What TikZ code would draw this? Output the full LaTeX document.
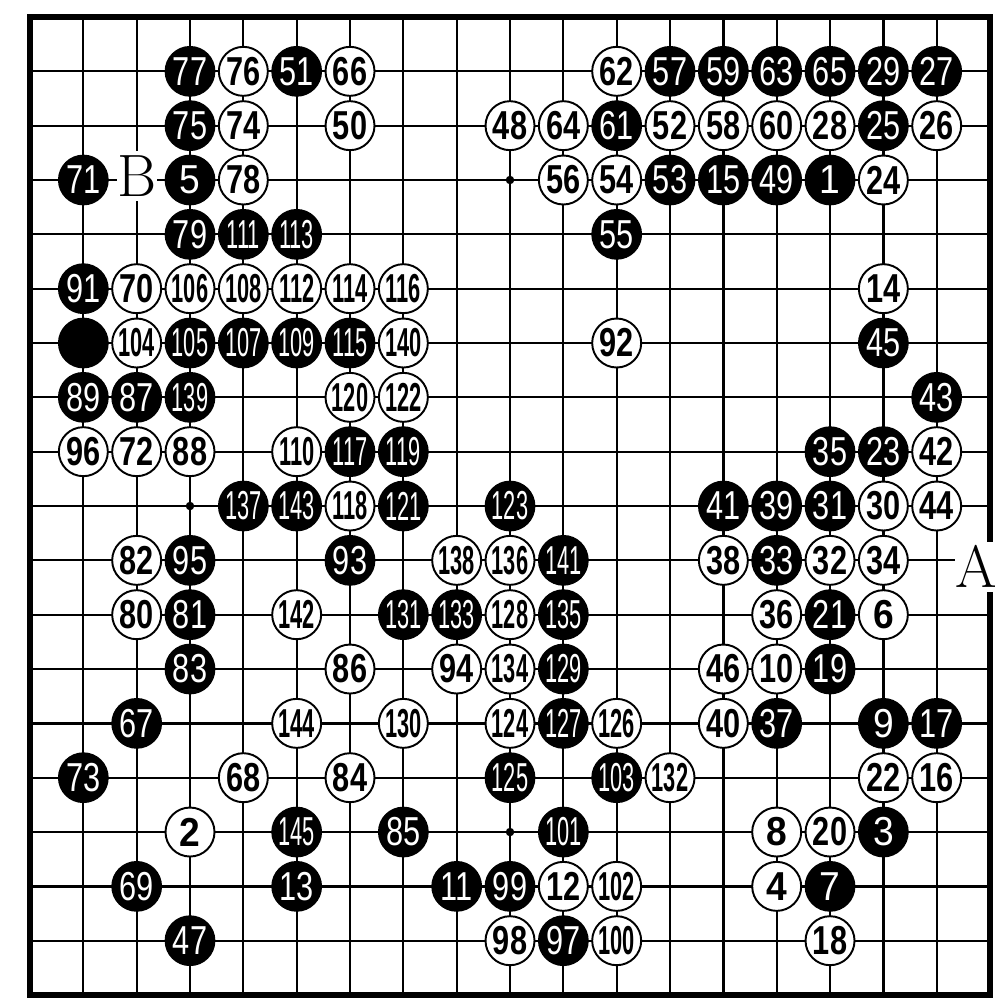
\documentclass[tikz,border=0pt]{standalone}
\usepackage{fontspec}
\setsansfont{Liberation Sans}
\usepackage{graphicx}
\definecolor{inkblack}{RGB}{0,0,0}
\definecolor{paper}{RGB}{255,255,255}
\newcommand{\stonefont}{\sffamily\fontsize{23}{23}\selectfont}
\newcommand{\numlbl}[1]{\ifnum#1>99 \scalebox{0.54}[1]{#1}\else\ifnum#1>9 \scalebox{0.76}[1]{#1}\else \scalebox{0.92}[1]{#1}\fi\fi}
\tikzset{
  gridline/.style={line width=1.3pt, color=inkblack},
  edgeline/.style={line width=2.9pt, color=inkblack},
  bstone/.style={circle, draw=inkblack, fill=inkblack, text=paper,
    minimum size=0.98cm, inner sep=0pt, font=\stonefont, line width=1pt},
  wstone/.style={circle, draw=inkblack, fill=paper, text=inkblack,
    minimum size=0.98cm, inner sep=0pt, font=\stonefont\bfseries, line width=1.1pt},
  hoshi/.style={circle, fill=inkblack, minimum size=0.17cm, inner sep=0pt},
  marker/.style={fill=paper, inner sep=0pt, minimum width=0.8cm, minimum height=1cm,
    font=\fontsize{34}{34}\selectfont}
}

\begin{document}
\begin{tikzpicture}[x=1.0667cm, y=-1.0867cm]
  \useasboundingbox[fill=paper] (-0.6cm,0.34cm) rectangle (19.42cm,-19.72cm);

  % Board lines
  \foreach \k in {1,...,17} {
    \draw[gridline] (\k,0) -- (\k,18);
    \draw[gridline] (0,\k) -- (18,\k);
  }
  \draw[edgeline] (0,0) rectangle (18,18);

  % Star points
  \foreach \hx in {3,9,15}
    \foreach \hy in {3,9,15}
      \node[hoshi] (h\hx-\hy) at (\hx,\hy) {};

  % Black stones
  \foreach \col/\row/\lbl in {3/1/77, 5/1/51, 12/1/57, 13/1/59, 14/1/63, 15/1/65, 16/1/29, 17/1/27,
      3/2/75, 11/2/61, 16/2/25,
      1/3/71, 3/3/5, 12/3/53, 13/3/15, 14/3/49, 15/3/1,
      3/4/79, 4/4/111, 5/4/113, 11/4/55,
      1/5/91,
      3/6/105, 4/6/107, 5/6/109, 6/6/115, 16/6/45,
      1/7/89, 2/7/87, 3/7/139, 17/7/43,
      6/8/117, 7/8/119, 15/8/35, 16/8/23,
      4/9/137, 5/9/143, 7/9/121, 9/9/123, 13/9/41, 14/9/39, 15/9/31,
      3/10/95, 6/10/93, 10/10/141, 14/10/33,
      3/11/81, 7/11/131, 8/11/133, 10/11/135, 15/11/21,
      3/12/83, 10/12/129, 15/12/19,
      2/13/67, 10/13/127, 14/13/37, 16/13/9, 17/13/17,
      1/14/73, 9/14/125, 11/14/103,
      5/15/145, 7/15/85, 10/15/101, 16/15/3,
      2/16/69, 5/16/13, 8/16/11, 9/16/99, 15/16/7,
      3/17/47, 10/17/97}
    \node[bstone] (b\lbl) at (\col,\row) {\numlbl{\lbl}};
  \node[bstone] (bx) at (1,6) {};

  % White stones
  \foreach \col/\row/\lbl in {4/1/76, 6/1/66, 11/1/62,
      4/2/74, 6/2/50, 9/2/48, 10/2/64, 12/2/52, 13/2/58, 14/2/60, 15/2/28, 17/2/26,
      4/3/78, 10/3/56, 11/3/54, 16/3/24,
      2/5/70, 3/5/106, 4/5/108, 5/5/112, 6/5/114, 7/5/116, 16/5/14,
      2/6/104, 7/6/140, 11/6/92,
      6/7/120, 7/7/122,
      1/8/96, 2/8/72, 3/8/88, 5/8/110, 17/8/42,
      6/9/118, 16/9/30, 17/9/44,
      2/10/82, 8/10/138, 9/10/136, 13/10/38, 15/10/32, 16/10/34,
      2/11/80, 5/11/142, 9/11/128, 14/11/36, 16/11/6,
      6/12/86, 8/12/94, 9/12/134, 13/12/46, 14/12/10,
      5/13/144, 7/13/130, 9/13/124, 11/13/126, 13/13/40,
      4/14/68, 6/14/84, 12/14/132, 16/14/22, 17/14/16,
      3/15/2, 14/15/8, 15/15/20,
      10/16/12, 11/16/102, 14/16/4,
      9/17/98, 11/17/100, 15/17/18}
    \node[wstone] (w\lbl) at (\col,\row) {\numlbl{\lbl}};

  % Point labels
  \node[marker] (mB) at (2,2.92) {B};
  \node[marker] (mA) at (17.74,10.12) {A};
\end{tikzpicture}
\end{document}
